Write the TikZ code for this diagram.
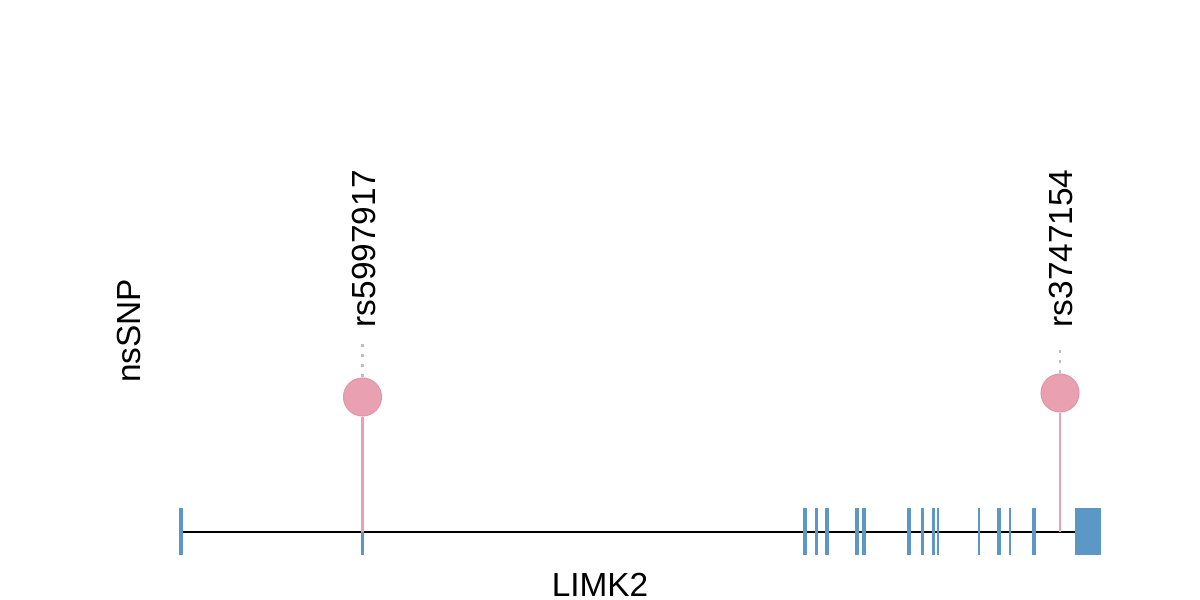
\documentclass[tikz,border=0pt]{standalone}
\usepackage{fontspec}
\setmainfont{Liberation Sans}
\usepackage{tikz}
\usetikzlibrary{calc}
\usepackage{xcolor}
\definecolor{ekson}{RGB}{91,152,198}
\definecolor{snppink}{RGB}{233,161,177}
\definecolor{snpedge}{RGB}{226,150,168}
\definecolor{garisabu}{RGB}{190,190,190}

\begin{document}
\begin{tikzpicture}[x=0.1mm,y=-0.1mm,
    font=\fontsize{9.5}{11}\selectfont,
    exonbar/.style={fill=ekson},
    snpdot/.style={circle,fill=snppink,draw=snpedge,line width=0.3pt,minimum size=3.8mm,inner sep=0pt},
    stem/.style={snppink,line width=0.6pt},
    guide/.style={garisabu,line width=0.6pt,dash pattern=on 0.3mm off 0.7mm},
    snplabel/.style={rotate=90,anchor=base west,inner sep=0pt}]

    % Batas gambar
    \useasboundingbox (0,0) rectangle (1200,600);

    % Garis gen utama
    \coordinate (geneStart) at (181,532);
    \coordinate (geneEnd) at (1075,532);
    \draw[line width=0.6pt] (geneStart)--(geneEnd);

    % Gambar ekson (tepi kiri/kanan)
    \foreach \a/\b in {179/183,361/364,803/807,815/818,825/829,855/859,862/866,
        907/911,921/924,932/935,937/939,978/980,997/1001,1009/1011,1032/1036,1075/1101}
        \fill[exonbar] (\a,508) rectangle (\b,555);

    % Titik SNP
    \coordinate (posA) at (362.5,532);
    \coordinate (posB) at (1060,532);
    \node[snpdot] (snpA) at (362.5,397) {};
    \node[snpdot] (snpB) at (1060,393) {};
    \draw[stem] (snpA)--(posA);
    \draw[stem] (snpB)--(posB);

    % Garis putus-putus ke label
    \coordinate (tipA) at (362.5,343);
    \coordinate (tipB) at (1060,348);
    \draw[guide] (snpA.north)--(tipA);
    \draw[guide] (snpB.north)--(tipB);

    % Label
    \node[snplabel] (labA) at (375,328) {rs5997917};
    \node[snplabel] (labB) at (1072,328) {rs3747154};
    \node[rotate=90,anchor=base,inner sep=0pt] (track) at (140,331) {nsSNP};
    \node[anchor=base,inner sep=0pt] (gene) at (600,596) {LIMK2};

\end{tikzpicture}
\end{document}
